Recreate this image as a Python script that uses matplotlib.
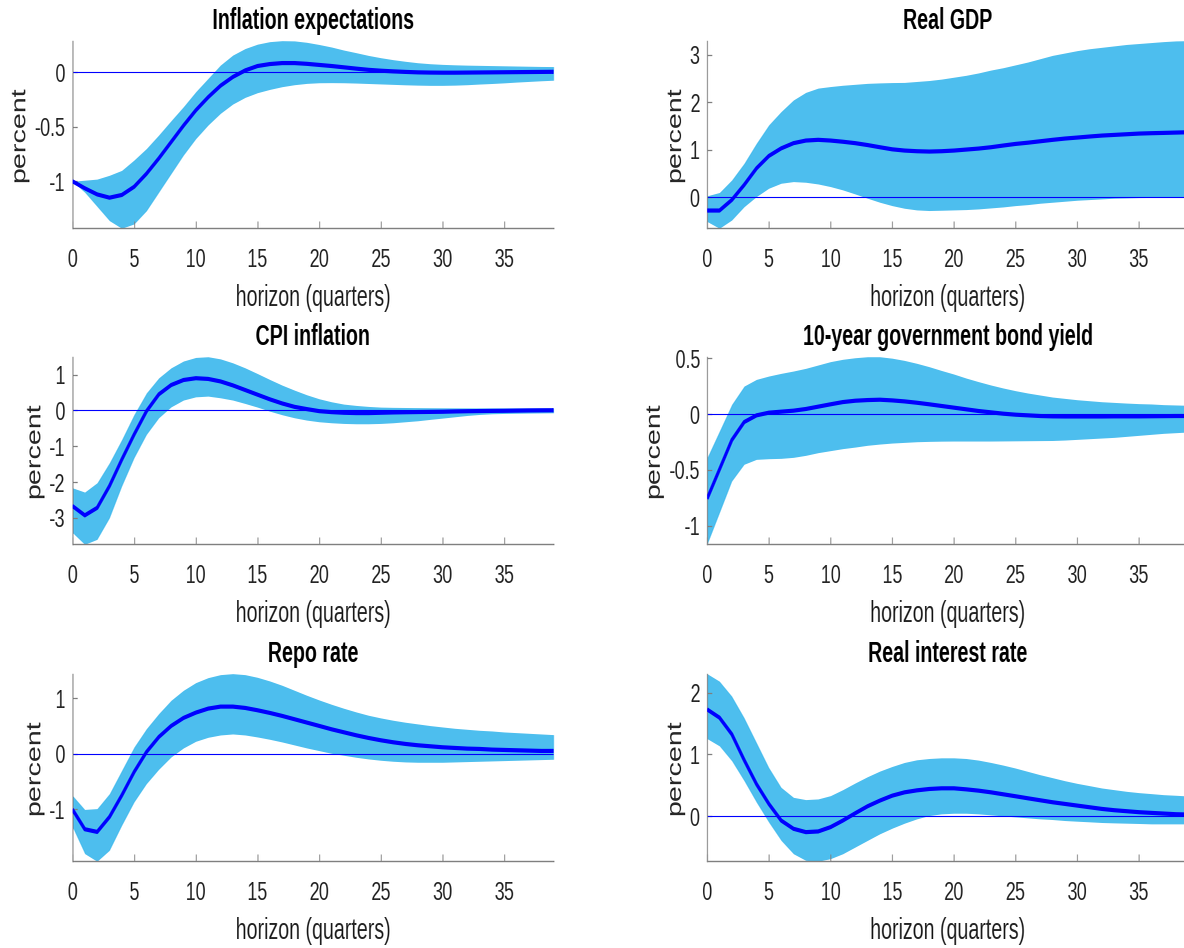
import io
import numpy as np
import matplotlib
matplotlib.use("Agg")
import matplotlib.pyplot as plt
from PIL import Image

plt.rcParams["font.family"] = ["Liberation Sans", "DejaVu Sans"]
plt.rcParams["axes.unicode_minus"] = False

horizon = np.arange(40)

# Inflation expectations
infl_exp_med = [-1.0, -1.064, -1.12, -1.15, -1.125, -1.05, -0.93, -0.79, -0.64, -0.49,
                -0.35, -0.23, -0.125, -0.045, 0.015, 0.055, 0.073, 0.082, 0.082, 0.075,
                0.065, 0.055, 0.043, 0.031, 0.02, 0.012, 0.006, 0.001, -0.003, -0.005,
                -0.006, -0.006, -0.005, -0.004, -0.003, -0.002, -0.001, 0.0, 0.001, 0.002]
infl_exp_hi = [-1.0, -0.99, -0.98, -0.945, -0.9, -0.805, -0.70, -0.576, -0.445, -0.317,
               -0.18, -0.058, 0.064, 0.155, 0.215, 0.255, 0.278, 0.287, 0.285, 0.272,
               0.252, 0.229, 0.201, 0.177, 0.152, 0.131, 0.113, 0.098, 0.085, 0.076,
               0.07, 0.066, 0.063, 0.061, 0.059, 0.057, 0.055, 0.053, 0.051, 0.05]
infl_exp_lo = [-1.0, -1.1, -1.23, -1.36, -1.43, -1.39, -1.27, -1.10, -0.93, -0.76,
               -0.61, -0.485, -0.378, -0.293, -0.232, -0.189, -0.159, -0.134, -0.116, -0.104,
               -0.098, -0.097, -0.098, -0.101, -0.105, -0.109, -0.113, -0.117, -0.12, -0.122,
               -0.122, -0.12, -0.116, -0.11, -0.105, -0.099, -0.092, -0.086, -0.08, -0.075]

# Real GDP
gdp_med = [-0.28, -0.28, -0.056, 0.26, 0.61, 0.87, 1.03, 1.14, 1.195, 1.21,
           1.195, 1.17, 1.14, 1.10, 1.054, 1.01, 0.984, 0.97, 0.963, 0.97,
           0.984, 1.005, 1.026, 1.054, 1.09, 1.124, 1.15, 1.18, 1.21, 1.237,
           1.258, 1.28, 1.30, 1.314, 1.328, 1.342, 1.35, 1.356, 1.363, 1.37]
gdp_hi = [0.03, 0.10, 0.365, 0.717, 1.14, 1.525, 1.806, 2.05, 2.21, 2.30,
          2.333, 2.36, 2.38, 2.40, 2.41, 2.417, 2.42, 2.44, 2.46, 2.49,
          2.53, 2.57, 2.62, 2.68, 2.73, 2.79, 2.85, 2.92, 2.99, 3.04,
          3.09, 3.13, 3.16, 3.19, 3.22, 3.24, 3.26, 3.28, 3.295, 3.30]
gdp_lo = [-0.51, -0.654, -0.48, -0.2, 0.014, 0.19, 0.295, 0.33, 0.316, 0.28,
          0.225, 0.155, 0.07, -0.02, -0.105, -0.176, -0.232, -0.267, -0.28, -0.274,
          -0.267, -0.26, -0.246, -0.225, -0.204, -0.176, -0.155, -0.126, -0.105, -0.084,
          -0.063, -0.049, -0.035, -0.02, -0.014, -0.007, -0.004, -0.002, 0.0, 0.002]

# CPI inflation
cpi_med = [-2.67, -2.93, -2.72, -2.11, -1.37, -0.67, -0.02, 0.45, 0.71, 0.85,
           0.90, 0.88, 0.81, 0.70, 0.57, 0.44, 0.31, 0.195, 0.10, 0.037,
           -0.02, -0.047, -0.065, -0.074, -0.074, -0.065, -0.056, -0.05, -0.045, -0.041,
           -0.037, -0.028, -0.022, -0.017, -0.013, -0.01, -0.005, 0.0, 0.003, 0.005]
cpi_hi = [-2.16, -2.28, -2.02, -1.46, -0.81, -0.11, 0.49, 0.91, 1.19, 1.38,
          1.48, 1.50, 1.44, 1.33, 1.19, 1.03, 0.865, 0.707, 0.567, 0.437,
          0.326, 0.242, 0.177, 0.14, 0.112, 0.093, 0.086, 0.082, 0.079, 0.076,
          0.074, 0.072, 0.071, 0.07, 0.07, 0.069, 0.069, 0.068, 0.068, 0.067]
cpi_lo = [-3.41, -3.74, -3.60, -3.0, -2.11, -1.32, -0.67, -0.205, 0.10, 0.29,
          0.38, 0.40, 0.353, 0.29, 0.195, 0.093, -0.02, -0.12, -0.205, -0.27,
          -0.316, -0.344, -0.363, -0.372, -0.372, -0.363, -0.344, -0.316, -0.288, -0.25,
          -0.214, -0.177, -0.14, -0.112, -0.093, -0.084, -0.078, -0.073, -0.069, -0.065]

# 10-year government bond yield
bond_med = [-0.758, -0.496, -0.233, -0.072, -0.012, 0.012, 0.021, 0.030, 0.045, 0.066,
            0.087, 0.107, 0.119, 0.125, 0.128, 0.122, 0.113, 0.101, 0.087, 0.072,
            0.057, 0.042, 0.027, 0.015, 0.003, -0.006, -0.012, -0.018, -0.021, -0.022,
            -0.022, -0.022, -0.022, -0.021, -0.021, -0.021, -0.02, -0.019, -0.018, -0.018]
bond_hi = [-0.39, -0.152, 0.087, 0.25, 0.31, 0.34, 0.364, 0.385, 0.409, 0.439,
           0.469, 0.49, 0.504, 0.513, 0.513, 0.50, 0.48, 0.454, 0.424, 0.39,
           0.358, 0.322, 0.29, 0.26, 0.233, 0.209, 0.188, 0.17, 0.152, 0.14,
           0.128, 0.119, 0.11, 0.104, 0.098, 0.093, 0.09, 0.084, 0.081, 0.078]
bond_lo = [-1.167, -0.884, -0.60, -0.45, -0.406, -0.40, -0.397, -0.388, -0.37, -0.346,
           -0.328, -0.31, -0.296, -0.28, -0.269, -0.26, -0.254, -0.248, -0.245, -0.243,
           -0.242, -0.242, -0.242, -0.242, -0.241, -0.24, -0.239, -0.238, -0.237, -0.233,
           -0.227, -0.221, -0.215, -0.209, -0.2, -0.191, -0.182, -0.173, -0.167, -0.161]

# Repo rate
repo_med = [-1.0, -1.357, -1.405, -1.135, -0.745, -0.324, 0.036, 0.306, 0.505, 0.649,
            0.745, 0.817, 0.853, 0.853, 0.829, 0.787, 0.739, 0.685, 0.625, 0.565,
            0.505, 0.444, 0.39, 0.336, 0.288, 0.246, 0.21, 0.18, 0.156, 0.138,
            0.12, 0.108, 0.096, 0.09, 0.078, 0.072, 0.066, 0.06, 0.054, 0.054]
repo_hi = [-0.745, -1.0, -0.985, -0.715, -0.294, 0.126, 0.456, 0.727, 0.967, 1.147,
           1.285, 1.375, 1.429, 1.447, 1.429, 1.381, 1.315, 1.237, 1.147, 1.057,
           0.973, 0.895, 0.823, 0.757, 0.697, 0.649, 0.607, 0.571, 0.541, 0.511,
           0.486, 0.462, 0.444, 0.426, 0.414, 0.396, 0.384, 0.372, 0.36, 0.348]
repo_lo = [-1.315, -1.796, -1.934, -1.736, -1.285, -0.865, -0.535, -0.276, -0.054, 0.108,
           0.228, 0.30, 0.342, 0.36, 0.342, 0.306, 0.264, 0.216, 0.162, 0.108,
           0.06, 0.012, -0.024, -0.06, -0.09, -0.114, -0.132, -0.144, -0.15, -0.15,
           -0.15, -0.144, -0.138, -0.132, -0.126, -0.12, -0.114, -0.108, -0.102, -0.096]

# Real interest rate
real_med = [1.73, 1.597, 1.328, 0.91, 0.52, 0.2, -0.07, -0.204, -0.258, -0.247,
            -0.177, -0.07, 0.048, 0.161, 0.253, 0.333, 0.387, 0.419, 0.441, 0.452,
            0.452, 0.435, 0.414, 0.387, 0.355, 0.323, 0.29, 0.258, 0.226, 0.199,
            0.172, 0.145, 0.118, 0.097, 0.081, 0.065, 0.054, 0.043, 0.032, 0.027]
real_hi = [2.31, 2.188, 1.946, 1.597, 1.194, 0.79, 0.468, 0.306, 0.269, 0.28,
           0.333, 0.43, 0.538, 0.64, 0.731, 0.806, 0.871, 0.914, 0.935, 0.946,
           0.946, 0.935, 0.909, 0.871, 0.828, 0.78, 0.726, 0.672, 0.624, 0.575,
           0.532, 0.495, 0.457, 0.43, 0.403, 0.382, 0.366, 0.349, 0.339, 0.328]
real_lo = [1.258, 1.14, 0.898, 0.575, 0.226, -0.097, -0.392, -0.608, -0.715, -0.73,
           -0.688, -0.608, -0.5, -0.392, -0.285, -0.194, -0.113, -0.043, 0.011, 0.038,
           0.048, 0.048, 0.038, 0.022, 0.005, -0.011, -0.027, -0.043, -0.054, -0.07,
           -0.081, -0.091, -0.102, -0.108, -0.113, -0.118, -0.124, -0.124, -0.124, -0.124]

titles = ["Inflation expectations", "Real GDP", "CPI inflation",
          "10-year government bond yield", "Repo rate", "Real interest rate"]
medians = [infl_exp_med, gdp_med, cpi_med, bond_med, repo_med, real_med]
uppers = [infl_exp_hi, gdp_hi, cpi_hi, bond_hi, repo_hi, real_hi]
lowers = [infl_exp_lo, gdp_lo, cpi_lo, bond_lo, repo_lo, real_lo]
yticks = [[-1, -0.5, 0], [0, 1, 2, 3], [-3, -2, -1, 0, 1],
          [-1, -0.5, 0, 0.5], [-1, 0, 1], [0, 1, 2]]
xticks = [0, 5, 10, 15, 20, 25, 30, 35]

BAND = "#4DBEEE"
LINE = "#0000FF"
AXCOL = "#7f7f7f"
TXT = "#262626"

# The figure is drawn wide and then condensed horizontally to the final size,
# which gives the narrow lettering of the exported figure.
OUT_W, OUT_H = 1184, 948
SQUEEZE = 0.685
DPI = 100
fig = plt.figure(figsize=(OUT_W / SQUEEZE / DPI, OUT_H / DPI), dpi=DPI)
fig.patch.set_facecolor("white")

col_left = [0.0612, 0.5971]
col_width = 0.4063
row_bottom = [0.7592, 0.4258, 0.0915]
row_height = 0.1979

for i in range(6):
    r, c = divmod(i, 2)
    ax = fig.add_axes([col_left[c], row_bottom[r], col_width, row_height])
    med = np.asarray(medians[i])
    hi = np.asarray(uppers[i])
    lo = np.asarray(lowers[i])

    ax.fill_between(horizon, lo, hi, color=BAND, linewidth=0, zorder=1)
    ax.plot([horizon[0], horizon[-1]], [0, 0], color=LINE, linewidth=0.8, zorder=2)
    ax.plot(horizon, med, color=LINE, linewidth=3.0, zorder=3,
            solid_joinstyle="round", solid_capstyle="butt")

    ax.set_xlim(horizon[0], horizon[-1])
    ax.set_ylim(min(lo.min(), med.min()), max(hi.max(), med.max()))
    ax.set_xticks(xticks)
    ax.set_xticklabels([str(t) for t in xticks])
    ax.set_yticks(yticks[i])
    ax.set_yticklabels(["%g" % t for t in yticks[i]])

    for side in ("top", "right"):
        ax.spines[side].set_visible(False)
    for side in ("left", "bottom"):
        ax.spines[side].set_color(AXCOL)
        ax.spines[side].set_linewidth(1.0)

    ax.tick_params(axis="both", direction="in", length=4.8, width=0.9,
                   color=AXCOL, labelcolor=TXT, labelsize=18.7)
    ax.tick_params(axis="x", pad=14)
    ax.tick_params(axis="y", pad=7.5)

    ax.set_title(titles[i], fontsize=20.6, fontweight="bold", color="black",
                 y=1.0, pad=8.2)
    ax.set_xlabel("horizon (quarters)", fontsize=20.6, color=TXT)
    ax.xaxis.set_label_coords(0.5, -0.297)
    ax.set_ylabel("percent", fontsize=20.6, color=TXT, labelpad=6)

buf = io.BytesIO()
fig.savefig(buf, format="png", dpi=DPI, facecolor="white")
buf.seek(0)
img = Image.open(buf).convert("RGB")
img = img.resize((OUT_W, OUT_H), Image.LANCZOS)
img.save("out.png")
